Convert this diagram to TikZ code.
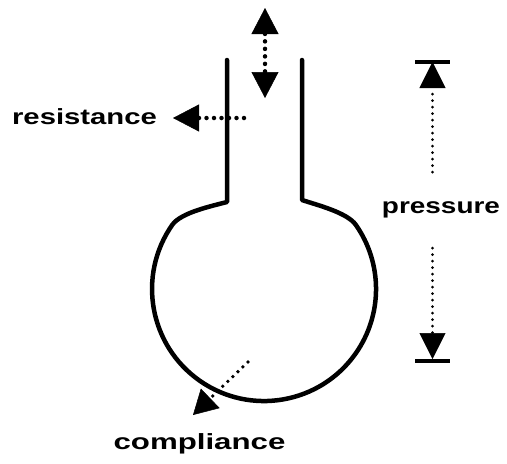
\documentclass[tikz,border=0pt]{standalone}
\usepackage{fontspec}
\newfontfamily\lblfam{Liberation Sans}
\usetikzlibrary{arrows.meta}
\tikzset{
  wall/.style={line width=4.5pt, line join=round, line cap=round},
  bigdots/.style={line width=4.5pt, line cap=round, dash pattern=on 0pt off 7.5pt},
  smalldots/.style={line width=3pt, line cap=round, dash pattern=on 0pt off 6.5pt},
  meddots/.style={line width=3.8pt, line cap=round, dash pattern=on 0pt off 7pt},
  tri/.tip={Triangle[length=26pt, width=27pt, line width=0.5pt]},
  trip/.tip={Triangle[length=26pt, width=26pt, line width=0.5pt]},
  lbl/.style={font=\lblfam\bfseries\fontsize{22}{22}\selectfont, inner sep=0pt, anchor=base},
  bar/.style={line width=4.5pt}
}
\begin{document}
\begin{tikzpicture}[x=1pt, y=-1pt]
\useasboundingbox (0,0) rectangle (507,464);
% labels
\node[lbl, xscale=1.33] (res) at (84.5,124) {resistance};
\node[lbl, xscale=1.27] (pres) at (441,213) {pressure};
\node[lbl, xscale=1.42] (comp) at (199.5,449) {compliance};
% top double arrow
\coordinate (ntop) at (265,8);
\coordinate (nbot) at (265,98);
\draw[bigdots, tri-tri] (ntop) -- (nbot);
% resistance arrow
\coordinate (rs) at (244,118);
\coordinate (rt) at (173,118);
\draw[bigdots, -tri] (rs) -- (rt);
% compliance arrow
\coordinate (cs) at (248,362);
\coordinate (ct) at (193,415);
\draw[meddots, -{Triangle[length=24pt, width=27pt, line width=0.5pt]}] (cs) -- (ct);
% pressure arrows
\coordinate (pbl) at (415,62);
\coordinate (pbr) at (450,62);
\coordinate (pbl2) at (415,361);
\coordinate (pbr2) at (450,361);
\coordinate (pt) at (432.5,62);
\coordinate (pa) at (432.5,172);
\coordinate (pb) at (432.5,248);
\coordinate (pbt) at (432.5,359);
\draw[bar] (pbl) -- (pbr);
\draw[bar] (pbl2) -- (pbr2);
\draw[smalldots, -trip] (pa) -- (pt);
\draw[smalldots, -trip] (pb) -- (pbt);
% vessel
\coordinate (lw) at (227,60);
\coordinate (rw) at (302,60);
\coordinate (lb) at (227,202);
\coordinate (rb) at (302,200);
\coordinate (p1) at (172.3,224.8);
\coordinate (p2) at (355.7,224.8);
\draw[wall] (lw) -- (lb) .. controls (212,206) and (180.9,212.5) .. (p1)
  arc[start angle=215, end angle=-35, radius=112]
  .. controls (347.1,212.5) and (317,205) .. (rb) -- (rw);
\end{tikzpicture}
\end{document}
